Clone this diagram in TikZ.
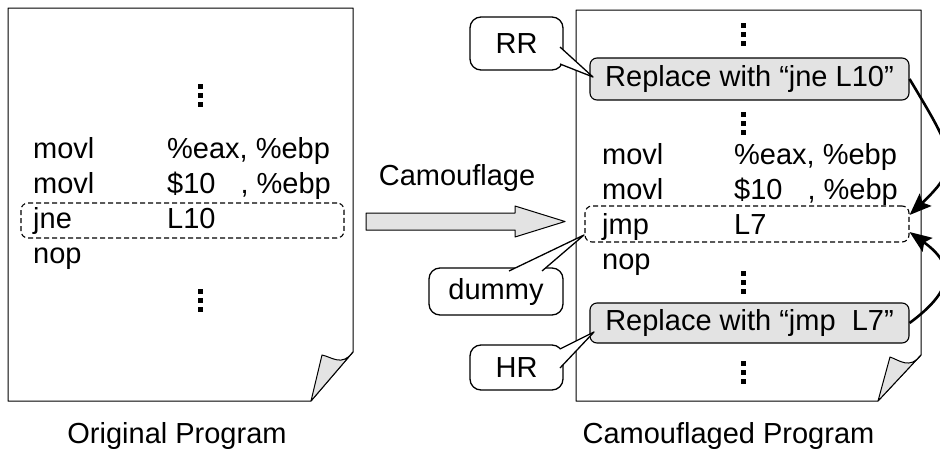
\documentclass[tikz,border=0pt]{standalone}
\usepackage{fontspec}
\setmainfont{Liberation Sans}
\usetikzlibrary{arrows.meta}

\begin{document}
\begin{tikzpicture}[x=1pt,y=-1pt,line join=round,font=\fontsize{29pt}{35pt}\selectfont]
% Styles
\tikzstyle{code text}=[anchor=base west,inner sep=0pt]
\tikzstyle{caption text}=[anchor=base,inner sep=0pt]
\tikzstyle{line box}=[draw,dashed,dash pattern=on 5pt off 3pt,rounded corners=7pt,line width=1.1pt,inner sep=0pt]
\tikzstyle{replace box}=[draw,fill=gray!22,rounded corners=7pt,line width=1.1pt,minimum width=319pt,inner sep=0pt]
\tikzstyle{note box}=[draw,fill=white,rounded corners=11pt,line width=1.3pt,inner sep=0pt,minimum height=47pt]
\tikzstyle{note tip}=[draw,fill=white,line width=1.3pt]
\tikzstyle{fold}=[draw,fill=gray!22,line width=1pt]
\tikzstyle{jump}=[line width=2.6pt,-{Stealth[length=22pt,width=17pt,inset=4pt]}]

\useasboundingbox (0,0) rectangle (940,453);

% the two pages
\draw[line width=1pt] (8,8) -- (353,8) -- (353,352) -- (311,401) -- (8,401) -- cycle;
\draw[fold] (353,352) .. controls (342,367) and (332,357) .. (322,355) -- (311,401) -- cycle;
\draw[line width=1pt] (576,10) -- (921,10) -- (921,355) -- (878,401) -- (576,401) -- cycle;
\draw[fold] (921,355) .. controls (910,370) and (899,360) .. (890,357) -- (878,401) -- cycle;

% vertical dots
\foreach \x/\y in {200/95, 200/300, 743/34, 743/123, 743/282, 743/372}
\foreach \d in {-9,0,9} {
\fill (\x-2.5,\y+\d-2.5) rectangle +(5,5);
}

% original code
\node[line box,minimum width=323pt,minimum height=35pt] (jneL) at (182.5,220.5) {};
\foreach \op/\arg/\y in {movl/{\%eax, \%ebp}/158, movl/{\$10\hspace{25pt}, \%ebp}/193,
jne/L10/228, nop/{}/263} {
\node[code text] (opL\y) at (33,\y) {\op};
\node[code text] (argL\y) at (167,\y) {\arg};
}

% camouflaged code
\node[line box,minimum width=324pt,minimum height=36pt] (jmpR) at (747,224) {};
\foreach \op/\arg/\y in {movl/{\%eax, \%ebp}/164, movl/{\$10\hspace{25pt}, \%ebp}/199,
jmp/L7/234, nop/{}/269} {
\node[code text] (opR\y) at (602,\y) {\op};
\node[code text] (argR\y) at (734,\y) {\arg};
}
\node[replace box,minimum height=42pt] (rep1) at (749.5,79) {Replace with “jne L10”};
\node[replace box,minimum height=40pt] (rep2) at (749.5,323) {Replace with “jmp\ \ L7”};

% camouflage arrow
\filldraw[fill=gray!22,line width=1pt] (366,213) -- (515,213) -- (515,206) -- (565,221.5)
-- (515,237) -- (515,230) -- (366,230) -- cycle;
\node[caption text] (camo) at (457,185) {Camouflage};

% notes
\coordinate (rrTip) at (593,77);
\coordinate (dummyTip) at (584,235);
\coordinate (hrTip) at (594,332);
\node[note box,minimum width=93pt,minimum height=53pt] (rr) at (516.5,43.5) {RR};
\draw[note tip] (560,47) -- (rrTip) -- (560,64);
\node[note box,minimum width=134pt] (dummy) at (496,291.5) {dummy};
\draw[note tip] (509,271) -- (dummyTip) -- (542,271);
\node[note box,minimum width=93pt,minimum height=45pt] (hr) at (516.5,367.5) {HR};
\draw[note tip] (560,349) -- (hrTip) -- (560,368);

% jumps
\draw[jump] (rep1.east) .. controls (955,155) and (962,165) .. ([yshift=9pt]jmpR.east);
\draw[jump] (rep2.east) .. controls (953,291) and (957,266) .. ([yshift=-8pt]jmpR.east);

\node[caption text] (capL) at (177,443) {Original Program};
\node[caption text] (capR) at (728.5,443) {Camouflaged Program};

\end{tikzpicture}
\end{document}
